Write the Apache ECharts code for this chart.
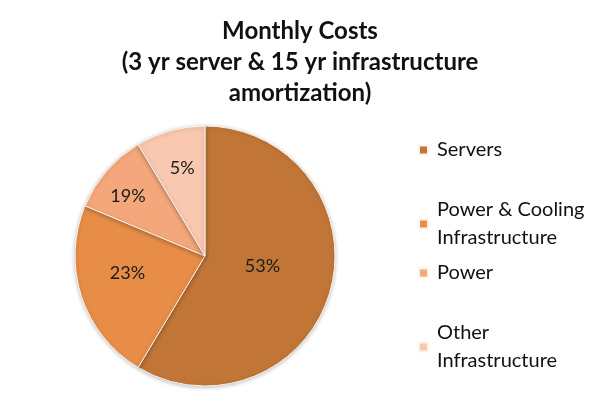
<!DOCTYPE html>
<html>
<head>
<meta charset="utf-8">
<script src="https://cdn.jsdelivr.net/npm/echarts@6/dist/echarts.min.js"></script>
<style>html,body{margin:0;padding:0;background:#fff}#c{width:600px;height:401px}</style>
</head>
<body>
<div id="c"></div>
<script>
// Data
const titleText = 'Monthly Costs\n(3 yr server & 15 yr infrastructure\namortization)';
const categories = ['Servers', 'Power & Cooling\nInfrastructure', 'Power', 'Other\nInfrastructure'];
// slice sizes as drawn in the picture (degrees measured -> share)
const sliceValues = [58.6, 22.7, 10.1, 8.6];
// printed data labels
const labelTexts = ['53%', '23%', '19%', '5%'];
const colors = ['#C17638', '#E78D47', '#F4A77A', '#F8C8B1'];

// layout
const CX = 205, CY = 256, R = 130;
const labelRadialFrac = [0.45, 0.61, 0.75, 0.70];
const labelAngleShift = [-5, 6, -3, 1]; // degrees, clockwise
const legendTops = [136, 182, 259, 305];
const legendMulti = [false, true, false, true];

const chart = echarts.init(document.getElementById('c'), null, {renderer: 'canvas'});
const FONT = 'Lato, "Open Sans", sans-serif';

const legends = categories.map((name, i) => ({
  data: [name],
  orient: 'vertical',
  left: 418,
  top: legendTops[i],
  padding: 0,
  itemWidth: 9,
  itemHeight: 9,
  icon: 'rect',
  selectedMode: false,
  textStyle: {
    fontFamily: FONT,
    fontSize: 20,
    color: '#111',
    lineHeight: 28,
    padding: legendMulti[i] ? [28, 0, 0, 4] : [0, 0, 0, 4]
  }
}));

chart.setOption({
  animation: false,
  color: colors,
  title: {
    text: titleText,
    left: 'center',
    top: 11,
    textStyle: {fontFamily: FONT, fontSize: 24, fontWeight: 'bold', color: '#111', lineHeight: 31}
  },
  legend: legends,
  series: [{
    type: 'pie',
    center: [CX, CY],
    radius: [0, R],
    startAngle: 90,
    clockwise: true,
    data: categories.map((n, i) => ({name: n, value: sliceValues[i]})),
    itemStyle: {
      borderColor: '#fdf3ec',
      borderWidth: 1,
      shadowBlur: 4,
      shadowColor: 'rgba(0,0,0,0.25)',
      shadowOffsetY: 1
    },
    label: {
      show: true,
      position: 'inside',
      formatter: p => labelTexts[p.dataIndex],
      fontFamily: FONT,
      fontSize: 18,
      color: '#1a1a1a'
    },
    labelLayout: function (params) {
      const r = params.labelRect;
      const lx = r.x + r.width / 2, ly = r.y + r.height / 2;
      const vx = lx - CX, vy = ly - CY;
      const d = Math.sqrt(vx * vx + vy * vy);
      const ang = Math.atan2(vy, vx) + labelAngleShift[params.dataIndex] * Math.PI / 180;
      const nd = labelRadialFrac[params.dataIndex] * R;
      const tx = CX + nd * Math.cos(ang), ty = CY + nd * Math.sin(ang);
      return {dx: tx - lx, dy: ty - ly};
    },
    emphasis: {disabled: true}
  }]
});
</script>
</body>
</html>
